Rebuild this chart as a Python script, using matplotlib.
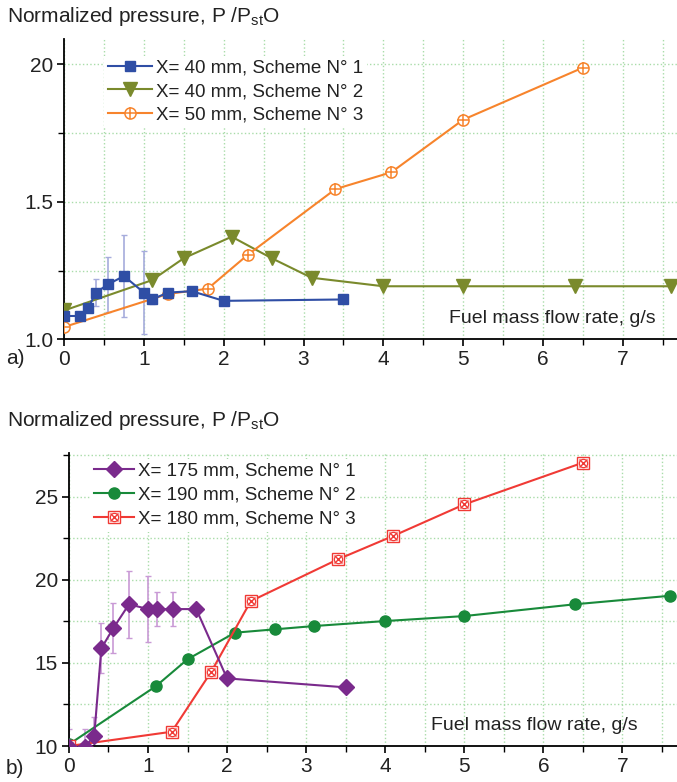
import matplotlib
matplotlib.use("Agg")
import matplotlib.pyplot as plt
from matplotlib.ticker import MultipleLocator, FixedLocator, FixedFormatter

FONT = ['Liberation Sans', 'DejaVu Sans']
plt.rcParams['font.family'] = FONT
plt.rcParams['mathtext.fontset'] = 'custom'
plt.rcParams['mathtext.rm'] = 'Liberation Sans'

# ---------------- data: panel a ----------------
a_x1 = [0, 0.2, 0.3, 0.4, 0.55, 0.75, 1.0, 1.1, 1.3, 1.6, 2.0, 3.5]
a_y1 = [1.085, 1.085, 1.114, 1.17, 1.20, 1.23, 1.17, 1.145, 1.17, 1.175, 1.14, 1.145]
a_e1 = [0, 0, 0, 0.05, 0.10, 0.15, 0.15, 0.018, 0, 0, 0, 0]
a_x2 = [0, 1.1, 1.5, 2.1, 2.6, 3.1, 4.0, 5.0, 6.4, 7.6]
a_y2 = [1.105, 1.215, 1.295, 1.373, 1.295, 1.224, 1.193, 1.193, 1.193, 1.193]
a_x3 = [0, 1.3, 1.8, 2.3, 3.4, 4.1, 5.0, 6.5]
a_y3 = [1.045, 1.165, 1.184, 1.307, 1.546, 1.607, 1.798, 1.987]
a_labels = ["X= 40 mm, Scheme N\u00b0 1", "X= 40 mm, Scheme N\u00b0 2", "X= 50 mm, Scheme N\u00b0 3"]
a_yticks = [1.0, 1.5, 2.0]
a_yticklabels = ["1.0", "1.5", "20"]

# ---------------- data: panel b ----------------
b_x1 = [0, 0.2, 0.32, 0.41, 0.56, 0.76, 1.0, 1.11, 1.31, 1.61, 2.0, 3.5]
b_y1 = [9.95, 9.95, 10.6, 15.88, 17.08, 18.53, 18.24, 18.24, 18.24, 18.24, 14.07, 13.53]
b_e1 = [1.05, 1.05, 1.16, 1.5, 1.5, 2.0, 2.0, 1.0, 1.0, 0, 0, 0]
b_x2 = [0, 1.1, 1.5, 2.1, 2.6, 3.1, 4.0, 5.0, 6.4, 7.6]
b_y2 = [10.1, 13.6, 15.22, 16.82, 17.02, 17.22, 17.52, 17.82, 18.53, 19.04]
b_x3 = [0, 1.3, 1.8, 2.3, 3.4, 4.1, 5.0, 6.5]
b_y3 = [10.0, 10.86, 14.47, 18.72, 21.23, 22.64, 24.54, 27.05]
b_labels = ["X= 175 mm, Scheme N\u00b0 1", "X= 190 mm, Scheme N\u00b0 2", "X= 180 mm, Scheme N\u00b0 3"]
b_yticks = [10, 15, 20, 25]
b_yticklabels = ["10", "15", "20", "25"]

x_ticks = [0, 1, 2, 3, 4, 5, 6, 7]

C_BLUE = '#2f4ea5'
C_BLUE_E = '#a6acdc'
C_OLIVE = '#7a8a2c'
C_ORANGE = '#f7842c'
C_PURPLE = '#7a2a8c'
C_PURPLE_E = '#c99ad6'
C_GREEN = '#188a3a'
C_RED = '#f03a35'
GRID = '#a9dca9'
TXT = '#222222'

fig = plt.figure(figsize=(6.77, 7.82), dpi=100)
ax1 = fig.add_axes([0.0947, 0.566, 0.9053, 0.3837])
ax2 = fig.add_axes([0.1018, 0.046, 0.8982, 0.3751])


def style(ax, xmax, ymin, ymax, yticks, yticklabels, yminor):
    ax.set_xlim(0, xmax)
    ax.set_ylim(ymin, ymax)
    for s in ['top', 'right']:
        ax.spines[s].set_visible(False)
    for s in ['left', 'bottom']:
        ax.spines[s].set_linewidth(1.3)
    ax.xaxis.set_major_locator(FixedLocator(x_ticks))
    ax.xaxis.set_minor_locator(MultipleLocator(0.5))
    ax.yaxis.set_major_locator(FixedLocator(yticks))
    ax.yaxis.set_major_formatter(FixedFormatter(yticklabels))
    ax.yaxis.set_minor_locator(MultipleLocator(yminor))
    ax.tick_params(which='major', direction='out', length=5, width=1.2, labelsize=15,
                   pad=3, labelcolor=TXT)
    ax.tick_params(which='minor', direction='out', length=4, width=1.0)
    ax.grid(True, which='both', color=GRID, linestyle=':', linewidth=1.0)
    ax.set_axisbelow(True)


style(ax1, 7.68, 1.0, 2.09, a_yticks, a_yticklabels, 0.25)
style(ax2, 7.69, 10.0, 27.65, b_yticks, b_yticklabels, 2.5)

# ---- panel a ----
ax1.errorbar(a_x1, a_y1, yerr=a_e1, fmt='none', ecolor=C_BLUE_E, elinewidth=1.2, capsize=2.5, zorder=2)
l1, = ax1.plot(a_x1, a_y1, color=C_BLUE, lw=1.5, marker='s', ms=7.5, zorder=4)
l2, = ax1.plot(a_x2, a_y2, color=C_OLIVE, lw=1.5, marker='v', ms=9.5, zorder=3)
l3a, = ax1.plot(a_x3, a_y3, color=C_ORANGE, lw=1.5, marker='o', ms=8, mfc='white', mec=C_ORANGE, mew=1.1, zorder=3)
l3b, = ax1.plot(a_x3, a_y3, color=C_ORANGE, lw=0, marker='+', ms=8, mew=1.1, zorder=3.5)
leg1 = ax1.legend([l1, l2, (l3a, l3b)], a_labels, loc='upper left', bbox_to_anchor=(0.065, 0.945),
                  frameon=True, fancybox=False, edgecolor='none', facecolor='white', framealpha=1,
                  fontsize=13.5, handlelength=2.35, handletextpad=0.2, labelspacing=0.33,
                  borderpad=0.2, borderaxespad=0)
for t in leg1.get_texts():
    t.set_color(TXT)

# ---- panel b ----
ax2.errorbar(b_x1, b_y1, yerr=b_e1, fmt='none', ecolor=C_PURPLE_E, elinewidth=1.2, capsize=2.5, zorder=2)
m1, = ax2.plot(b_x1, b_y1, color=C_PURPLE, lw=1.5, marker='D', ms=8, zorder=4)
m2, = ax2.plot(b_x2, b_y2, color=C_GREEN, lw=1.5, marker='o', ms=8, zorder=3)
m3a, = ax2.plot(b_x3, b_y3, color=C_RED, lw=1.5, marker='s', ms=8, mfc='white', mec=C_RED, mew=1.0, zorder=3)
m3b, = ax2.plot(b_x3, b_y3, color=C_RED, lw=0, marker='x', ms=6, mew=1.0, zorder=3.5)
m3c, = ax2.plot(b_x3, b_y3, color=C_RED, lw=0, marker='o', ms=6, mfc='none', mec=C_RED, mew=0.9, zorder=3.5)
leg2 = ax2.legend([m1, m2, (m3a, m3b, m3c)], b_labels, loc='upper left', bbox_to_anchor=(0.035, 0.98),
                  frameon=True, fancybox=False, edgecolor='none', facecolor='white', framealpha=1,
                  fontsize=13.5, handlelength=2.15, handletextpad=0.2, labelspacing=0.38,
                  borderpad=0.2, borderaxespad=0)
for t in leg2.get_texts():
    t.set_color(TXT)

# ---- texts ----
fig.text(7 / 677, 1 - 17 / 782, "Normalized pressure, P /P$_{\\mathrm{st}}$O", fontsize=15,
         ha='left', va='center', color=TXT)
fig.text(7 / 677, 1 - 421 / 782, "Normalized pressure, P /P$_{\\mathrm{st}}$O", fontsize=15,
         ha='left', va='center', color=TXT)
fig.text(6 / 677, 1 - 358 / 782, "a)", fontsize=15, ha='left', va='center', color=TXT)
fig.text(6 / 677, 1 - 768 / 782, "b)", fontsize=15, ha='left', va='center', color=TXT)
ax1.text(0.965, 0.04, "Fuel mass flow rate, g/s", transform=ax1.transAxes, fontsize=14,
         ha='right', va='bottom', color=TXT)
ax2.text(0.935, 0.04, "Fuel mass flow rate, g/s", transform=ax2.transAxes, fontsize=14,
         ha='right', va='bottom', color=TXT)

fig.savefig("out.png", dpi=100)
